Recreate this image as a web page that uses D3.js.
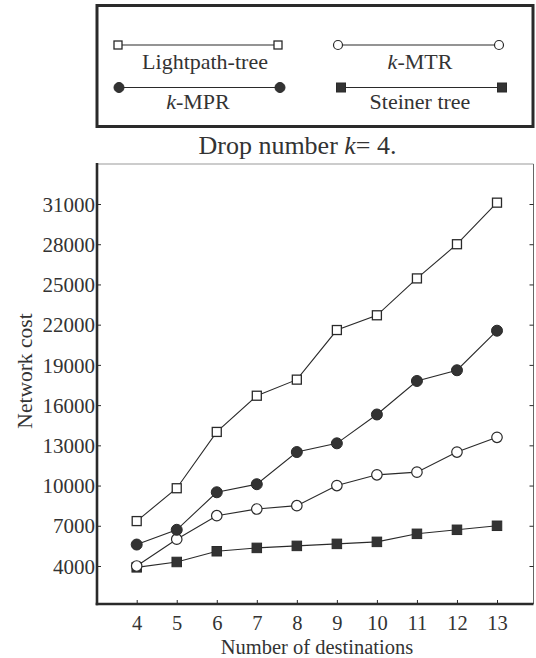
<!DOCTYPE html>
<html><head><meta charset="utf-8">
<script src="https://cdn.jsdelivr.net/npm/d3@7/dist/d3.min.js"></script>
<style>
html,body{margin:0;padding:0;background:#fff;}
svg{display:block;}
text{font-family:"Liberation Serif","Times New Roman",Times,"DejaVu Serif",serif;fill:#333;}
</style></head>
<body>
<script>
const destinations = [4,5,6,7,8,9,10,11,12,13];
const lightpathTree = [7350,9800,14000,16700,17900,21600,22700,25450,28000,31100];
const kMPR = [5600,6700,9500,10100,12500,13150,15300,17800,18600,21550];
const kMTR = [4000,6000,7750,8250,8500,10000,10800,11000,12500,13600];
const steinerTree = [3900,4300,5100,5350,5500,5650,5800,6400,6700,7000];
const yTicks = [4000,7000,10000,13000,16000,19000,22000,25000,28000,31000];
const xTicks = [4,5,6,7,8,9,10,11,12,13];
const seriesNames = ["Lightpath-tree","k-MPR","k-MTR","Steiner tree"];

const W=536,H=658;
const FONT='"Liberation Serif","Times New Roman",Times,"DejaVu Serif",serif';
const svg=d3.select("body").append("svg").attr("width",W).attr("height",H);
const ink="#2a2a2a";

// plot area
const L=97,R=533.5,T=164,B=604;
const x=d3.scaleLinear().domain([4,13]).range([136.7,497]);
const y=d3.scaleLinear().domain([4000,31000]).range([566,204]);

// frame: thin top/right
svg.append("line").attr("x1",L).attr("x2",R).attr("y1",T).attr("y2",T).attr("stroke","#999").attr("stroke-width",1);
svg.append("line").attr("x1",R).attr("x2",R).attr("y1",T).attr("y2",B).attr("stroke","#666").attr("stroke-width",1);

// right ticks
svg.append("g").attr("transform",`translate(${R},0)`)
  .call(d3.axisRight(y).tickValues(yTicks).tickSize(-4).tickFormat(""))
  .call(g=>{g.select(".domain").remove();g.selectAll("line").attr("stroke",ink);});

// left axis
const gy=svg.append("g").attr("transform",`translate(${L},0)`)
  .call(d3.axisLeft(y).tickValues(yTicks).tickSize(-4).tickPadding(2).tickFormat(d3.format("d")));
gy.select(".domain").remove();
gy.selectAll("line").attr("stroke",ink);
gy.selectAll("text").attr("font-size",21).attr("font-family",FONT).attr("fill","#333").attr("dy","0.34em");

// bottom axis
const gx=svg.append("g").attr("transform",`translate(0,${B})`)
  .call(d3.axisBottom(x).tickValues(xTicks).tickSize(-4).tickPadding(11).tickFormat(d3.format("d")));
gx.select(".domain").remove();
gx.selectAll("line").attr("stroke",ink);
gx.selectAll("text").attr("font-size",20.5).attr("font-family",FONT).attr("fill","#333");

// thick left/bottom axes
svg.append("line").attr("x1",L).attr("x2",L).attr("y1",T-1).attr("y2",B+1.2).attr("stroke",ink).attr("stroke-width",2.6);
svg.append("line").attr("x1",L-1.3).attr("x2",R).attr("y1",B).attr("y2",B).attr("stroke",ink).attr("stroke-width",2.6);

// axis titles
svg.append("text").attr("x",317).attr("y",653.5).attr("text-anchor","middle").attr("font-size",20.5).text("Number of destinations");
svg.append("text").attr("transform","translate(32,371) rotate(-90)").attr("text-anchor","middle").attr("font-size",21.5).text("Network cost");

// title
const tt=svg.append("text").attr("x",297.5).attr("y",154).attr("text-anchor","middle").attr("font-size",26);
tt.append("tspan").text("Drop number ");
tt.append("tspan").attr("font-style","italic").text("k");
tt.append("tspan").text("= 4.");

// marker drawer
function marker(g,type,cx,cy,s){
  if(type==="osq"){g.append("rect").attr("x",cx-s/2).attr("y",cy-s/2).attr("width",s).attr("height",s).attr("fill","#fff").attr("stroke",ink).attr("stroke-width",1.3);}
  else if(type==="fsq"){g.append("rect").attr("x",cx-s/2).attr("y",cy-s/2).attr("width",s).attr("height",s).attr("fill","#333").attr("stroke",ink).attr("stroke-width",1);}
  else if(type==="fc"){g.append("circle").attr("cx",cx).attr("cy",cy).attr("r",s/2).attr("fill","#333").attr("stroke",ink).attr("stroke-width",1);}
  else if(type==="oc"){g.append("circle").attr("cx",cx).attr("cy",cy).attr("r",s/2).attr("fill","#fff").attr("stroke",ink).attr("stroke-width",1.2);}
}

const series=[
  {name:seriesNames[3],vals:steinerTree,type:"fsq",size:9.5},
  {name:seriesNames[2],vals:kMTR,type:"oc",size:10.5},
  {name:seriesNames[1],vals:kMPR,type:"fc",size:11},
  {name:seriesNames[0],vals:lightpathTree,type:"osq",size:9}
];
const line=d3.line().x(d=>x(d[0])).y(d=>y(d[1]));
series.forEach(s=>{
  const pts=destinations.map((d,i)=>[d,s.vals[i]]);
  svg.append("path").attr("d",line(pts)).attr("fill","none").attr("stroke",ink).attr("stroke-width",1.1);
});
series.forEach(s=>{
  const g=svg.append("g");
  destinations.forEach((d,i)=>marker(g,s.type,x(d),y(s.vals[i]),s.size));
});

// legend
svg.append("rect").attr("x",97).attr("y",5.5).attr("width",436).attr("height",121).attr("fill","none").attr("stroke",ink).attr("stroke-width",3);
const leg=[
  {name:seriesNames[0],type:"osq",size:8,x1:118,x2:278,ly:45,ty:69,tx:205},
  {name:seriesNames[2],type:"oc",size:9,x1:338,x2:499,ly:45,ty:69,tx:420},
  {name:seriesNames[1],type:"fc",size:10,x1:119,x2:280,ly:87.5,ty:109,tx:198},
  {name:seriesNames[3],type:"fsq",size:9,x1:341,x2:502,ly:87.5,ty:109,tx:420}
];
leg.forEach(l=>{
  const g=svg.append("g");
  g.append("line").attr("x1",l.x1).attr("x2",l.x2).attr("y1",l.ly).attr("y2",l.ly).attr("stroke",ink).attr("stroke-width",1.1);
  marker(g,l.type,l.x1,l.ly,l.size);
  marker(g,l.type,l.x2,l.ly,l.size);
  const t=g.append("text").attr("x",l.tx).attr("y",l.ty).attr("text-anchor","middle").attr("font-size",22);
  if(l.name.startsWith("k-")){
    t.append("tspan").attr("font-style","italic").text("k");
    t.append("tspan").text("-"+l.name.slice(2));
  } else t.text(l.name);
});
</script>
</body></html>
